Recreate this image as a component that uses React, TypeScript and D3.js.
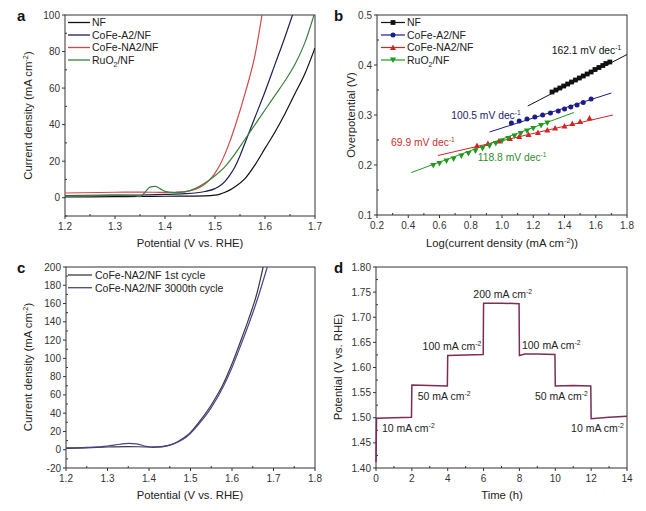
import * as d3 from 'd3';

// OER figure: (a) LSV, (b) Tafel, (c) stability LSV, (d) multi-step chronopotentiometry
const FONT = '"Liberation Sans", Arial, Helvetica, sans-serif';
type Pt = [number, number];

// ---- panel a: polarisation curves (V vs. RHE, mA cm-2)
const nfLsv: Pt[] = [[1.2, 0.4], [1.3, 0.6], [1.35, 0.7], [1.4, 0.8], [1.45, 0.9], [1.48, 1.0], [1.5, 1.4], [1.51, 2], [1.52, 3], [1.53, 4.3], [1.54, 6], [1.56, 10.5], [1.58, 18], [1.6, 27], [1.62, 36], [1.64, 46], [1.66, 57], [1.68, 68], [1.7, 82]];
const a2Lsv: Pt[] = [[1.2, 1.2], [1.3, 1.4], [1.35, 1.5], [1.4, 1.8], [1.44, 2.2], [1.46, 2.6], [1.48, 3.4], [1.5, 5], [1.51, 6.5], [1.52, 9], [1.53, 12.5], [1.54, 17], [1.55, 23], [1.56, 30], [1.58, 44], [1.6, 58], [1.62, 73], [1.64, 88], [1.655, 100]];
const na2Lsv: Pt[] = [[1.2, 2.6], [1.3, 3.0], [1.35, 3.1], [1.4, 2.9], [1.42, 3.0], [1.44, 3.3], [1.46, 4.5], [1.47, 5.8], [1.48, 7.5], [1.49, 10], [1.5, 13.5], [1.51, 18], [1.52, 24], [1.53, 31], [1.54, 39], [1.56, 57], [1.58, 78], [1.594, 100]];
const ruo2Lsv: Pt[] = [[1.2, 1.0], [1.3, 1.3], [1.34, 1.2], [1.35, 0.6], [1.36, 3.0], [1.37, 5.8], [1.38, 6.2], [1.39, 5.0], [1.4, 3.5], [1.42, 2.8], [1.44, 3.2], [1.46, 5], [1.48, 8], [1.5, 12], [1.52, 17], [1.54, 24], [1.56, 32], [1.58, 40], [1.6, 48], [1.62, 56], [1.64, 64], [1.66, 73], [1.68, 85], [1.698, 100]];

// ---- panel b: Tafel points (log j, overpotential V) and fitted lines [x0, y0, x1, y1]
const nfTafel: Pt[] = [[1.32, 0.346], [1.345, 0.35], [1.37, 0.354], [1.395, 0.358], [1.42, 0.362], [1.445, 0.366], [1.47, 0.37], [1.495, 0.374], [1.52, 0.378], [1.545, 0.382], [1.57, 0.386], [1.595, 0.391], [1.62, 0.395], [1.645, 0.399], [1.665, 0.403], [1.69, 0.406]];
const a2Tafel: Pt[] = [[1.06, 0.284], [1.11, 0.288], [1.16, 0.292], [1.21, 0.296], [1.26, 0.3], [1.31, 0.304], [1.36, 0.308], [1.4, 0.312], [1.44, 0.316], [1.48, 0.32], [1.52, 0.325], [1.57, 0.332]];
const na2Tafel: Pt[] = [[0.84, 0.239], [0.91, 0.243], [0.98, 0.248], [1.05, 0.253], [1.11, 0.257], [1.17, 0.261], [1.23, 0.265], [1.29, 0.27], [1.34, 0.274], [1.4, 0.278], [1.45, 0.283], [1.5, 0.287], [1.56, 0.294]];
const ruo2Tafel: Pt[] = [[0.56, 0.199], [0.6, 0.203], [0.645, 0.208], [0.69, 0.212], [0.74, 0.218], [0.785, 0.223], [0.83, 0.228], [0.875, 0.233], [0.92, 0.238], [0.96, 0.243], [1.0, 0.248], [1.04, 0.253], [1.08, 0.258], [1.12, 0.263], [1.16, 0.268], [1.2, 0.273], [1.25, 0.279], [1.29, 0.284]];
const nfFit = [1.165, 0.318, 1.8, 0.421];
const a2Fit = [0.92, 0.266, 1.7, 0.344];
const na2Fit = [0.59, 0.219, 1.71, 0.3];
const ruo2Fit = [0.42, 0.185, 1.46, 0.305];
const tafelSlopes = ['162.1', '100.5', '69.9', '118.8'];
const slopeAt: Pt[] = [[1.318, 0.422], [0.675, 0.292], [0.29, 0.239], [0.845, 0.209]];

// ---- panel c: 1st vs 3000th cycle
const cycle1: Pt[] = [[1.2, 1.5], [1.25, 2], [1.3, 3], [1.35, 3.5], [1.4, 3], [1.43, 3.5], [1.45, 5], [1.47, 9], [1.49, 15], [1.5, 19], [1.52, 30], [1.55, 49], [1.58, 73], [1.6, 94], [1.62, 118], [1.64, 143], [1.66, 171], [1.675, 200]];
const cycle3000: Pt[] = [[1.2, 2], [1.25, 2.5], [1.3, 4], [1.33, 6], [1.35, 7], [1.37, 6.5], [1.39, 4], [1.41, 2.5], [1.43, 3], [1.45, 5], [1.47, 8.5], [1.49, 14], [1.5, 18], [1.52, 28], [1.55, 46], [1.58, 70], [1.6, 90], [1.62, 113], [1.64, 137], [1.66, 163], [1.685, 200]];

// ---- panel d: potential vs time (h) at stepped current densities
const steps: Pt[] = [[0, 1.412], [0.03, 1.499], [1, 1.5], [1.98, 1.501], [2, 1.565], [3, 1.564], [3.98, 1.563], [4, 1.624], [5, 1.625], [5.98, 1.626], [6, 1.728], [7, 1.728], [7.98, 1.727], [8, 1.624], [8.3, 1.627], [9, 1.627], [9.98, 1.626], [10, 1.563], [11, 1.564], [11.98, 1.563], [12, 1.498], [13, 1.501], [14, 1.503]];
const stepLabels = ['10', '50', '100', '200', '100', '50', '10'];
const stepLabelAt: Pt[] = [[0.33, 1.472], [2.33, 1.536], [2.6, 1.635], [5.43, 1.739], [8.14, 1.636], [8.87, 1.536], [10.88, 1.472]];

const AXIS = '#333';
const TXT = '#222';

function range(a: number, b: number, s: number) {
  const out: number[] = [];
  for (let v = a; v <= b + s * 1e-6; v += s) out.push(+v.toFixed(6));
  return out;
}

function Frame({ x, y, xt, xm, yt, ym, fx, fy }: any) {
  const [l, r] = x.range();
  const [b, t] = y.range();
  return (
    <g fontFamily={FONT} fontSize={10} fill="#333">
      <rect x={l} y={t} width={r - l} height={b - t} fill="none" stroke={AXIS} strokeWidth={1} />
      {xt.map((v: number) => (
        <g key={'x' + v}>
          <line x1={x(v)} x2={x(v)} y1={b} y2={b + 3} stroke={AXIS} />
          <text x={x(v)} y={b + 14} textAnchor="middle">{fx(v)}</text>
        </g>
      ))}
      {xm.map((v: number) => (
        <line key={'xm' + v} x1={x(v)} x2={x(v)} y1={b} y2={b - 2} stroke={AXIS} />
      ))}
      {yt.map((v: number) => (
        <g key={'y' + v}>
          <line x1={l} x2={l - 3} y1={y(v)} y2={y(v)} stroke={AXIS} />
          <text x={l - 5} y={y(v) + 3.5} textAnchor="end">{fy(v)}</text>
        </g>
      ))}
      {ym.map((v: number) => (
        <line key={'ym' + v} x1={l} x2={l + 2} y1={y(v)} y2={y(v)} stroke={AXIS} />
      ))}
    </g>
  );
}

// superscript, with optional trailing text put back on the baseline
const Sup = ({ s, after }: { s: string; after?: string }) => (
  <>
    <tspan dy={-4} fontSize="0.65em">{s}</tspan>
    {after ? <tspan dy={4}>{after}</tspan> : null}
  </>
);

function Marker({ kind, cx, cy, color }: { kind: string; cx: number; cy: number; color: string }) {
  if (kind === 'square') return <rect x={cx - 2.4} y={cy - 2.4} width={4.8} height={4.8} fill={color} />;
  if (kind === 'circle') return <circle cx={cx} cy={cy} r={2.5} fill={color} />;
  const s = 3;
  const d = kind === 'up'
    ? `M${cx - s},${cy + s * 0.8}L${cx + s},${cy + s * 0.8}L${cx},${cy - s}Z`
    : `M${cx - s},${cy - s * 0.8}L${cx + s},${cy - s * 0.8}L${cx},${cy + s}Z`;
  return <path d={d} fill={color} />;
}

export default function App() {
  const smooth = (x: any, y: any) => d3.line<Pt>().x((p) => x(p[0])).y((p) => y(p[1])).curve(d3.curveMonotoneX);

  // a
  const xa = d3.scaleLinear().domain([1.2, 1.7]).range([65, 315]);
  const ya = d3.scaleLinear().domain([-10, 100]).range([216, 15]);
  const lineA = smooth(xa, ya);
  const seriesA = [
    { name: 'NF', data: nfLsv, color: '#111111' },
    { name: 'CoFe-A2/NF', data: a2Lsv, color: '#1e1e55' },
    { name: 'CoFe-NA2/NF', data: na2Lsv, color: '#d24848' },
    { name: 'RuO2/NF', data: ruo2Lsv, color: '#3f7f3f' },
  ];

  // b
  const xb = d3.scaleLinear().domain([0.2, 1.8]).range([377, 627]);
  const yb = d3.scaleLinear().domain([0.1, 0.5]).range([215, 15]);
  const seriesB = [
    { name: 'NF', data: nfTafel, fit: nfFit, color: '#111111', marker: 'square' },
    { name: 'CoFe-A2/NF', data: a2Tafel, fit: a2Fit, color: '#1c1c8a', marker: 'circle' },
    { name: 'CoFe-NA2/NF', data: na2Tafel, fit: na2Fit, color: '#d42424', marker: 'up' },
    { name: 'RuO2/NF', data: ruo2Tafel, fit: ruo2Fit, color: '#1f9a1f', marker: 'down' },
  ];
  const slopeColors = ['#111111', '#1c1c6a', '#c83030', '#2e8b2e'];

  // c
  const xc = d3.scaleLinear().domain([1.2, 1.8]).range([66, 315]);
  const yc = d3.scaleLinear().domain([-20, 200]).range([468, 267]);
  const lineC = smooth(xc, yc);
  const seriesC = [
    { name: 'CoFe-NA2/NF 1st cycle', data: cycle1, color: '#3a3a44' },
    { name: 'CoFe-NA2/NF 3000th cycle', data: cycle3000, color: '#45458e' },
  ];

  // d
  const xd = d3.scaleLinear().domain([0, 14]).range([376, 627]);
  const yd = d3.scaleLinear().domain([1.4, 1.8]).range([468, 267]);
  const lineD = d3.line<Pt>().x((p) => xd(p[0])).y((p) => yd(p[1]));

  const label = (n: string) =>
    n === 'RuO2/NF' ? (
      <>RuO<tspan dy={3} fontSize="0.65em">2</tspan><tspan dy={-3}>/NF</tspan></>
    ) : n;

  return (
    <div style={{ position: 'absolute', left: 0, top: 0 }}>
      <svg width={646} height={511} style={{ display: 'block', background: '#fff' }}>
        <defs>
          <clipPath id="clipA"><rect x={65} y={15} width={250} height={201} /></clipPath>
          <clipPath id="clipC"><rect x={66} y={267} width={249} height={201} /></clipPath>
        </defs>

        {/* panel a */}
        <Frame x={xa} y={ya} xt={range(1.2, 1.7, 0.1)} xm={range(1.25, 1.65, 0.1)}
          yt={range(0, 100, 20)} ym={range(-10, 90, 20)} fx={(v: number) => v.toFixed(1)} fy={(v: number) => String(v)} />
        <g clipPath="url(#clipA)" fill="none" strokeWidth={1.2}>
          {seriesA.map((s) => <path key={s.name} d={lineA(s.data) || ''} stroke={s.color} />)}
        </g>
        <g fontFamily={FONT} fontSize={10.5} fill={TXT}>
          {seriesA.map((s, i) => (
            <g key={s.name}>
              <line x1={68} x2={90} y1={22.5 + i * 12.5} y2={22.5 + i * 12.5} stroke={s.color} strokeWidth={1.3} />
              <text x={92} y={26.3 + i * 12.5}>{label(s.name)}</text>
            </g>
          ))}
        </g>

        {/* panel b */}
        <Frame x={xb} y={yb} xt={range(0.2, 1.8, 0.2)} xm={range(0.3, 1.7, 0.2)}
          yt={range(0.1, 0.5, 0.1)} ym={range(0.15, 0.45, 0.1)} fx={(v: number) => v.toFixed(1)} fy={(v: number) => v.toFixed(1)} />
        {seriesB.map((s) => (
          <line key={'f' + s.name} x1={xb(s.fit[0])} y1={yb(s.fit[1])} x2={xb(s.fit[2])} y2={yb(s.fit[3])} stroke={s.color} strokeWidth={1} />
        ))}
        {seriesB.map((s) => (
          <g key={'m' + s.name}>
            {s.data.map((p, j) => <Marker key={j} kind={s.marker} cx={xb(p[0])} cy={yb(p[1])} color={s.color} />)}
          </g>
        ))}
        <g fontFamily={FONT} fontSize={10.5} fill={TXT}>
          {seriesB.map((s, i) => (
            <g key={'l' + s.name}>
              <line x1={381} x2={405} y1={22.5 + i * 12.5} y2={22.5 + i * 12.5} stroke={s.color} strokeWidth={1.2} />
              <Marker kind={s.marker} cx={393} cy={22.5 + i * 12.5} color={s.color} />
              <text x={407} y={26.3 + i * 12.5}>{label(s.name)}</text>
            </g>
          ))}
        </g>
        <g fontFamily={FONT} fontSize={10.3}>
          {tafelSlopes.map((t, i) => (
            <text key={t} x={xb(slopeAt[i][0])} y={yb(slopeAt[i][1])} fill={slopeColors[i]}>
              {t} mV dec<Sup s="-1" />
            </text>
          ))}
        </g>

        {/* panel c */}
        <Frame x={xc} y={yc} xt={range(1.2, 1.8, 0.1)} xm={range(1.25, 1.75, 0.1)}
          yt={range(-20, 200, 20)} ym={range(-10, 190, 20)} fx={(v: number) => v.toFixed(1)} fy={(v: number) => String(v)} />
        <g clipPath="url(#clipC)" fill="none" strokeWidth={1.2}>
          {seriesC.map((s) => <path key={s.name} d={lineC(s.data) || ''} stroke={s.color} />)}
        </g>
        <g fontFamily={FONT} fontSize={10.5} fill={TXT}>
          {seriesC.map((s, i) => (
            <g key={s.name}>
              <line x1={68} x2={92} y1={275 + i * 12.7} y2={275 + i * 12.7} stroke={s.color} strokeWidth={1.3} />
              <text x={95} y={278.8 + i * 12.7}>{s.name}</text>
            </g>
          ))}
        </g>

        {/* panel d */}
        <Frame x={xd} y={yd} xt={range(0, 14, 2)} xm={range(1, 13, 2)}
          yt={range(1.4, 1.8, 0.05)} ym={range(1.425, 1.775, 0.05)} fx={(v: number) => String(v)} fy={(v: number) => v.toFixed(2)} />
        <path d={lineD(steps) || ''} fill="none" stroke="#7a2d55" strokeWidth={1.5} />
        <g fontFamily={FONT} fontSize={10.5} fill={TXT}>
          {stepLabels.map((t, i) => (
            <text key={i} x={xd(stepLabelAt[i][0])} y={yd(stepLabelAt[i][1])}>
              {t} mA cm<Sup s="-2" />
            </text>
          ))}
        </g>

        {/* axis titles */}
        <g fontFamily={FONT} fontSize={11.3} fill={TXT} textAnchor="middle">
          <text x={190} y={247}>Potential (V vs. RHE)</text>
          <text x={502} y={247}>Log(current density (mA cm<Sup s="-2" after="))" /></text>
          <text x={190} y={499}>Potential (V vs. RHE)</text>
          <text x={502} y={499}>Time (h)</text>
          <text transform="translate(32,115.5) rotate(-90)">Current density (mA cm<Sup s="-2" after=")" /></text>
          <text transform="translate(355,115) rotate(-90)">Overpotential (V)</text>
          <text transform="translate(32,367) rotate(-90)">Current density (mA cm<Sup s="-2" after=")" /></text>
          <text transform="translate(342,367) rotate(-90)">Potential (V vs. RHE)</text>
        </g>

        {/* panel letters */}
        <g fontFamily={FONT} fontSize={15} fontWeight="bold" fill="#111">
          <text x={17} y={21}>a</text>
          <text x={334} y={21}>b</text>
          <text x={17} y={273}>c</text>
          <text x={334} y={273}>d</text>
        </g>
      </svg>
    </div>
  );
}
